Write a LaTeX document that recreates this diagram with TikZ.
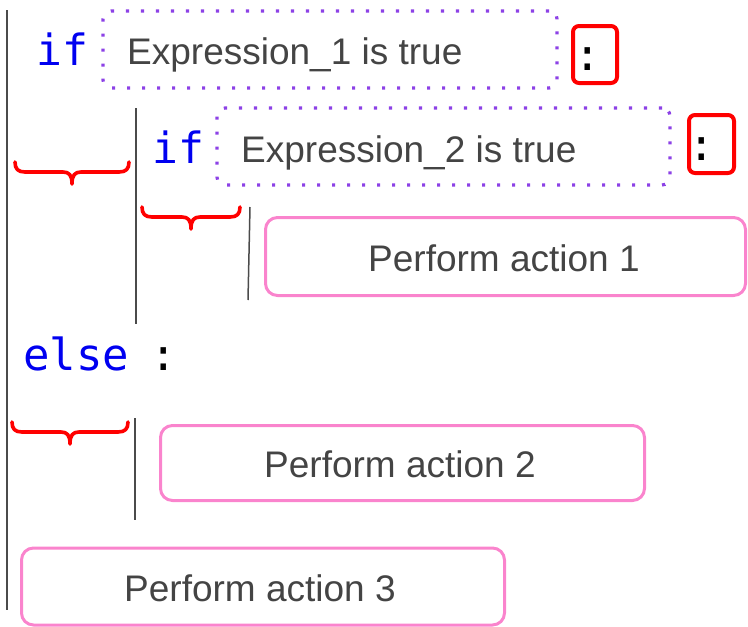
\documentclass[tikz,border=0pt]{standalone}
\usepackage{fontspec}
\setmainfont{Liberation Sans}
\newfontfamily\codefont{DejaVu Sans Mono}

\definecolor{kwblue}{RGB}{0,0,240}
\definecolor{txtgray}{RGB}{68,68,68}
\definecolor{condpurple}{RGB}{140,65,230}
\definecolor{actpink}{RGB}{250,132,205}
\definecolor{colred}{RGB}{255,0,0}
\definecolor{rulegray}{RGB}{75,75,75}

\tikzset{
  keyword/.style={inner sep=0pt, anchor=base west, text=kwblue,
    font=\codefont\fontsize{43}{43}\selectfont},
  colonmark/.style={inner sep=0pt, anchor=base, text=black,
    font=\codefont\fontsize{44}{44}\selectfont},
  label/.style={inner sep=0pt, anchor=base west, text=txtgray,
    font=\fontsize{37}{37}\selectfont},
  condbox/.style={draw=condpurple, line width=3.2pt, dash pattern=on 3.2pt off 11.8pt,
    rounded corners=8pt, inner sep=0pt},
  colonbox/.style={draw=colred, line width=4pt, rounded corners=6pt, inner sep=0pt},
  actionbox/.style={draw=actpink, line width=3pt, rounded corners=12pt, inner sep=0pt},
  blockrule/.style={draw=rulegray, line width=1.5pt},
  indent/.style={draw=colred, line width=3.6pt, line cap=round, line join=round},
}

% flat curly brace under an indentation step: left x, right x, top y
\newcommand{\drawindent}[3]{%
  \pgfmathsetmacro{\bracemid}{(#1+#2)/2}%
  \draw[indent] (#1,#3) .. controls (#1,#3+7) and (#1+3,#3+10) .. (#1+10,#3+10)
    -- (\bracemid-9,#3+10) .. controls (\bracemid-3,#3+10) and (\bracemid,#3+13) .. (\bracemid,#3+22)
    .. controls (\bracemid,#3+13) and (\bracemid+3,#3+10) .. (\bracemid+9,#3+10)
    -- (#2-10,#3+10) .. controls (#2-3,#3+10) and (#2,#3+7) .. (#2,#3);
}

\begin{document}
\begin{tikzpicture}[x=1pt, y=-1pt]
\useasboundingbox (0,0) rectangle (748,627);

% outer if
\node[keyword] (if1) at (36,65) {if};
\node[condbox, minimum width=454pt, minimum height=77pt] (cond1) at (330,49.5) {};
\node[label] (expr1) at (127,64) {Expression\_1 is true};
\node[colonbox, minimum width=44pt, minimum height=57pt] (cbox1) at (595,54.5) {};
\node[colonmark] (colon1) at (588,70) {:};

% inner if
\node[keyword] (if2) at (152,163) {if};
\node[condbox, minimum width=453pt, minimum height=77pt] (cond2) at (443.5,146.5) {};
\node[label] (expr2) at (241,162) {Expression\_2 is true};
\node[colonbox, minimum width=45pt, minimum height=58pt] (cbox2) at (711.5,144) {};
\node[colonmark] (colon2) at (702,160) {:};

% action 1
\node[actionbox, minimum width=480pt, minimum height=78pt] (act1) at (505.5,256.5) {};
\node[label] (act1txt) at (368,271) {Perform action 1};

% else
\node[inner sep=0pt, anchor=base west, text=kwblue,
  font=\codefont\fontsize{44}{44}\selectfont] (else) at (23,370) {else};
\node[colonmark] (colon3) at (164,370) {:};

% action 2
\node[actionbox, minimum width=484pt, minimum height=75pt] (act2) at (402.5,463) {};
\node[label] (act2txt) at (264,477) {Perform action 2};

% action 3
\node[actionbox, minimum width=483pt, minimum height=77pt] (act3) at (263,586.5) {};
\node[label] (act3txt) at (124,601) {Perform action 3};

% block rules
\coordinate (r0a) at (7,10);   \coordinate (r0b) at (7,610);
\coordinate (r1a) at (136,108); \coordinate (r1b) at (136,324);
\coordinate (r2a) at (250,207); \coordinate (r2b) at (248,300);
\coordinate (r3a) at (135,418); \coordinate (r3b) at (135,520);
\draw[blockrule] (r0a) -- (r0b);
\draw[blockrule] (r1a) -- (r1b);
\draw[blockrule] (r2a) -- (r2b);
\draw[blockrule] (r3a) -- (r3b);

% indentation braces
\drawindent{15}{129}{162}
\drawindent{142}{240}{207}
\drawindent{12}{128}{422}
\end{tikzpicture}
\end{document}
